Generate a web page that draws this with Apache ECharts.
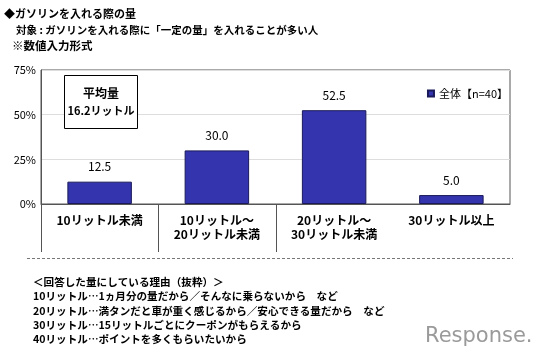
<!DOCTYPE html>
<html><head><meta charset="utf-8">
<script src="https://cdn.jsdelivr.net/npm/echarts@6/dist/echarts.min.js"></script>
<style>html,body{margin:0;padding:0;background:#fff}#c{width:550px;height:363px}</style>
</head><body><div id="c"></div>
<script>
const categories = ['10リットル未満', '10リットル～\n20リットル未満', '20リットル～\n30リットル未満', '30リットル以上'];
const values = [12.5, 30.0, 52.5, 5.0];
const seriesName = '全体【n=40】';
const yTicks = [0, 25, 50, 75];
const titleLines = ['◆ガソリンを入れる際の量', '対象 : ガソリンを入れる際に「一定の量」を入れることが多い人', '※数値入力形式'];
const noteLines = ['＜回答した量にしている理由（抜粋）＞', '10リットル…1ヵ月分の量だから／そんなに乗らないから　など', '20リットル…満タンだと車が重く感じるから／安心できる量だから　など', '30リットル…15リットルごとにクーポンがもらえるから', '40リットル…ポイントを多くもらいたいから'];
const avgLines = ['平均量', '16.2リットル'];

// inner category boundaries (between category i-1 and i)
const dividers = categories.slice(1).map((c, i) => i + 1);

const FONT = '"Noto Sans CJK JP", sans-serif';
const chart = echarts.init(document.getElementById('c'));
chart.setOption({
  backgroundColor: '#fff',
  textStyle: { fontFamily: FONT },
  grid: { left: 41, right: 40, top: 70, bottom: 159, show: true, borderColor: '#555', borderWidth: 1, containLabel: false },
  legend: {
    data: [seriesName], right: 37, top: 83, icon: 'rect', itemWidth: 6, itemHeight: 6, itemGap: 3,
    textStyle: { fontSize: 11, color: '#000', fontFamily: FONT }
  },
  xAxis: {
    type: 'category', data: categories, boundaryGap: true,
    axisLine: { show: true, lineStyle: { color: '#555' } },
    axisTick: { show: false },
    axisLabel: { interval: 0, margin: 9, fontSize: 12, color: '#000', fontWeight: 'bold', lineHeight: 14, fontFamily: FONT }
  },
  yAxis: {
    type: 'value', min: yTicks[0], max: yTicks[yTicks.length - 1], interval: 25,
    axisLine: { show: true, lineStyle: { color: '#555' } },
    axisTick: { show: false },
    axisLabel: { formatter: '{value}%', fontSize: 11, color: '#000', margin: 5, fontFamily: FONT },
    splitLine: { show: true, lineStyle: { color: '#ddd' } }
  },
  series: [{
    name: seriesName, type: 'bar', data: values, barWidth: '55%',
    itemStyle: { color: '#3434ae', borderColor: '#1a1a5a', borderWidth: 1 },
    label: { show: true, position: 'top', distance: 9, fontSize: 12, color: '#000', fontFamily: FONT, formatter: (p) => p.value.toFixed(1) }
  }, {
    name: 'dividers', type: 'custom', data: dividers, clip: false, silent: true,
    renderItem: (params, api) => {
      const b = api.value(0);
      const p = api.coord([b, 0]);
      const size = api.size([1, 0]);
      const x = Math.round(p[0] - size[0] / 2) + 0.5;
      return { type: 'line', shape: { x1: x, y1: p[1], x2: x, y2: p[1] + 48 }, style: { stroke: '#555', lineWidth: 1 } };
    }
  }],
  graphic: [
    { type: 'text', left: 4, top: 8, z: 100, style: { text: titleLines[0], fill: '#000', font: 'bold 11px ' + FONT } },
    { type: 'text', left: 16, top: 25, z: 100, style: { text: titleLines[1], fill: '#000', font: 'bold 10.5px ' + FONT } },
    { type: 'text', left: 12, top: 40, z: 100, style: { text: titleLines[2], fill: '#000', font: 'bold 11.5px ' + FONT } },
    { type: 'rect', z: 100, shape: { x: 64.5, y: 75.5, width: 73, height: 53 }, style: { fill: '#fff', stroke: '#000', lineWidth: 1 } },
    { type: 'text', z: 101, x: 101, y: 93, style: { text: avgLines[0], fill: '#000', font: 'bold 12px ' + FONT, align: 'center', verticalAlign: 'middle' } },
    { type: 'text', z: 101, x: 101, y: 111, style: { text: avgLines[1], fill: '#000', font: 'bold 11px ' + FONT, align: 'center', verticalAlign: 'middle' } },
    { type: 'line', z: 100, shape: { x1: 27, y1: 258.5, x2: 513, y2: 258.5 }, style: { stroke: '#777', lineWidth: 1, lineDash: [3, 2] } },
    { type: 'text', z: 100, left: 33, top: 275, style: { text: noteLines.join('\n'), fill: '#000', font: 'bold 10.6px ' + FONT, lineHeight: 14.2 } },
    { type: 'text', z: 100, left: 425, top: 326, style: { text: 'Response.', fill: '#9a9a9a', font: '21px "DejaVu Sans", sans-serif' } }
  ]
});
</script></body></html>
